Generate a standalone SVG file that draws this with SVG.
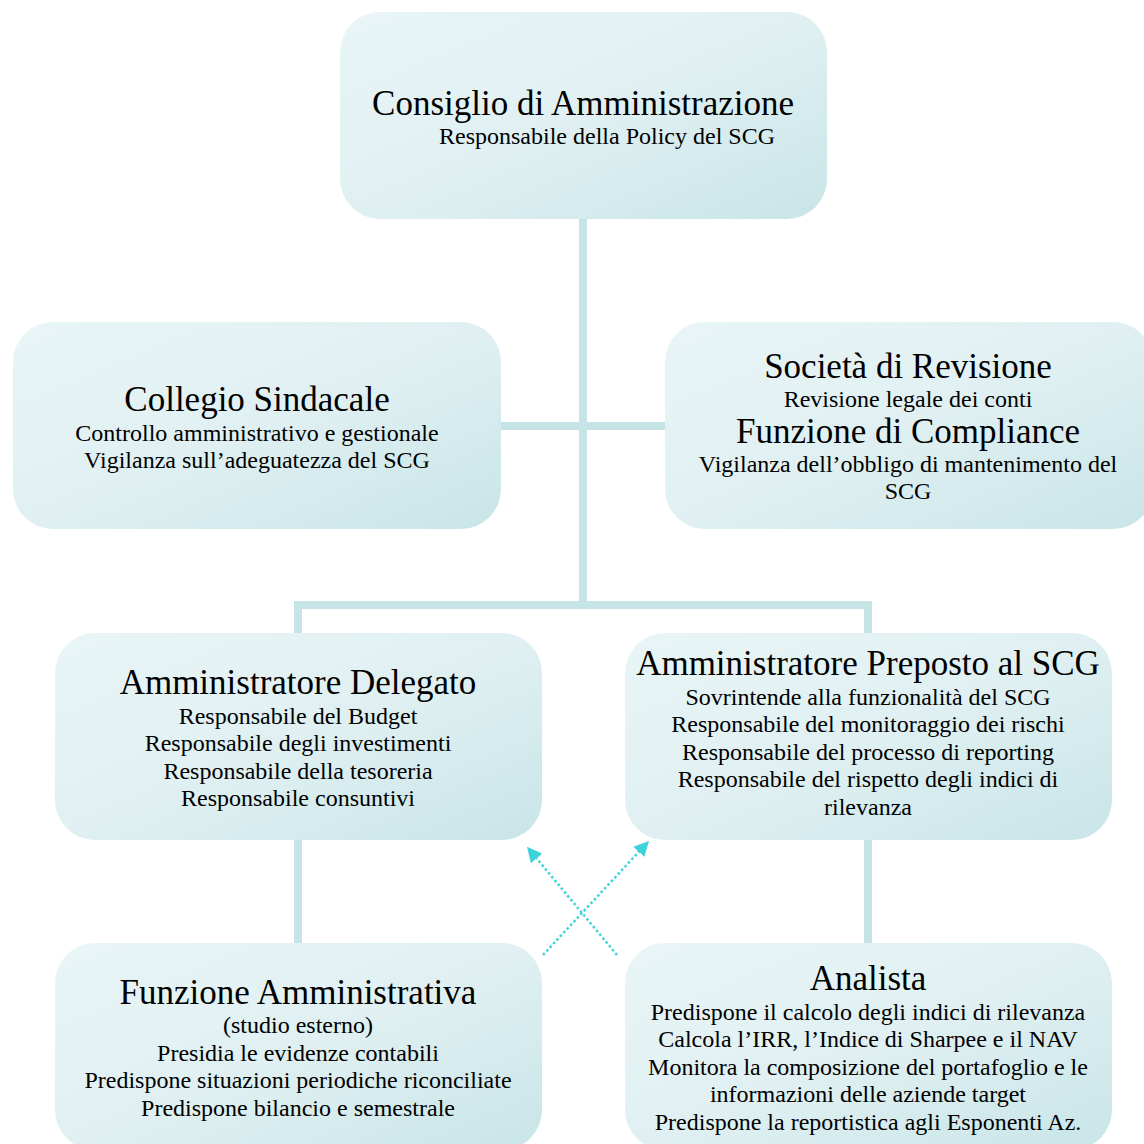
<svg xmlns="http://www.w3.org/2000/svg" width="1144" height="1144" viewBox="0 0 1144 1144">
<defs>
<linearGradient id="g" x1="0" y1="0" x2="1" y2="1">
<stop offset="0" stop-color="#e9f5f6"/>
<stop offset="0.5" stop-color="#e0f0f2"/>
<stop offset="1" stop-color="#c8e5e8"/>
</linearGradient>
<marker id="ah" viewBox="0 0 10 10" refX="9" refY="5" markerWidth="6" markerHeight="6" orient="auto" markerUnits="strokeWidth">
<path d="M0,0 L10,5 L0,10 Z" fill="#3dd3d8"/>
</marker>
<style>
.box{fill:url(#g)}
.t{font-family:"Liberation Serif","Times New Roman",serif;fill:#000;text-anchor:middle}
.h{font-size:35px}
.s{font-size:24px}
.c{stroke:#c4e4e6;stroke-width:8;fill:none}
.d{stroke:#3dd3d8;stroke-width:2.5;stroke-dasharray:2.5 2.5;fill:none}
</style>
</defs>
<rect width="1144" height="1144" fill="#fff"/>
<g id="connectors">
<path class="c" d="M583,219 V605 M501,426 H665 M298,633 V605 H868 V633 M298,840 V943 M868,840 V943"/>
<path class="d" d="M617,955 L528,848" marker-end="url(#ah)"/>
<path class="d" d="M543,955 L648,842" marker-end="url(#ah)"/>
</g>
<g id="consiglio">
<rect class="box" x="340" y="12" width="487" height="207" rx="40"/>
<text class="t h" x="583" y="115">Consiglio di Amministrazione</text>
<text class="t s" x="607" y="144">Responsabile della Policy del SCG</text>
</g>
<g id="collegio">
<rect class="box" x="13" y="322" width="488" height="207" rx="40"/>
<text class="t h" x="257" y="411">Collegio Sindacale</text>
<text class="t s" x="257" y="441">Controllo amministrativo e gestionale</text>
<text class="t s" x="257" y="468">Vigilanza sull’adeguatezza del SCG</text>
</g>
<g id="societa">
<rect class="box" x="665" y="322" width="488" height="207" rx="40"/>
<text class="t h" x="908" y="378">Società di Revisione</text>
<text class="t s" x="908" y="407">Revisione legale dei conti</text>
<text class="t h" x="908" y="443">Funzione di Compliance</text>
<text class="t s" x="908" y="472">Vigilanza dell’obbligo di mantenimento del</text>
<text class="t s" x="908" y="499">SCG</text>
</g>
<g id="ad">
<rect class="box" x="55" y="633" width="487" height="207" rx="40"/>
<text class="t h" x="298" y="694">Amministratore Delegato</text>
<text class="t s" x="298" y="724">Responsabile del Budget</text>
<text class="t s" x="298" y="751">Responsabile degli investimenti</text>
<text class="t s" x="298" y="779">Responsabile della tesoreria</text>
<text class="t s" x="298" y="806">Responsabile consuntivi</text>
</g>
<g id="ap">
<rect class="box" x="625" y="633" width="487" height="207" rx="40"/>
<text class="t h" x="868" y="675">Amministratore Preposto al SCG</text>
<text class="t s" x="868" y="705">Sovrintende alla funzionalità del SCG</text>
<text class="t s" x="868" y="732">Responsabile del monitoraggio dei rischi</text>
<text class="t s" x="868" y="760">Responsabile del processo di reporting</text>
<text class="t s" x="868" y="787">Responsabile del rispetto degli indici di</text>
<text class="t s" x="868" y="815">rilevanza</text>
</g>
<g id="fa">
<rect class="box" x="55" y="943" width="487" height="207" rx="40"/>
<text class="t h" x="298" y="1004">Funzione Amministrativa</text>
<text class="t s" x="298" y="1033">(studio esterno)</text>
<text class="t s" x="298" y="1061">Presidia le evidenze contabili</text>
<text class="t s" x="298" y="1088">Predispone situazioni periodiche riconciliate</text>
<text class="t s" x="298" y="1116">Predispone bilancio e semestrale</text>
</g>
<g id="analista">
<rect class="box" x="625" y="943" width="487" height="207" rx="40"/>
<text class="t h" x="868" y="990">Analista</text>
<text class="t s" x="868" y="1020">Predispone il calcolo degli indici di rilevanza</text>
<text class="t s" x="868" y="1047">Calcola l’IRR, l’Indice di Sharpee e il NAV</text>
<text class="t s" x="868" y="1075">Monitora la composizione del portafoglio e le</text>
<text class="t s" x="868" y="1102">informazioni delle aziende target</text>
<text class="t s" x="868" y="1130">Predispone la reportistica agli Esponenti Az.</text>
</g>
</svg>
